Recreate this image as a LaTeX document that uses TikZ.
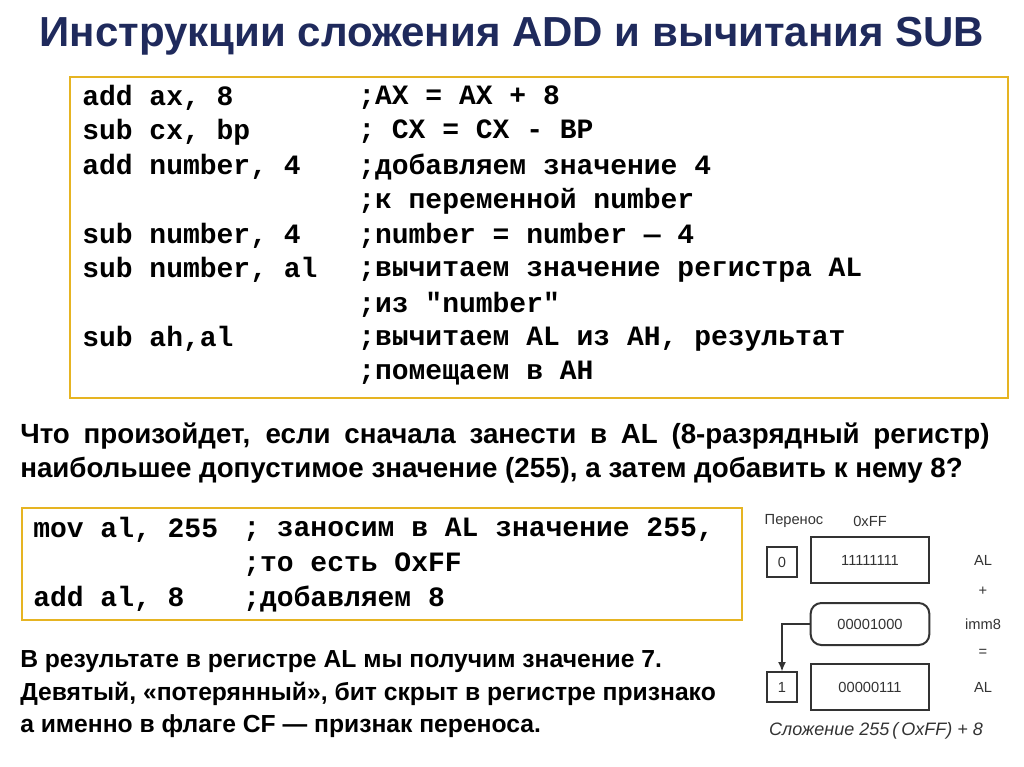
\documentclass[tikz,border=0pt]{standalone}
\usepackage{fontspec}
\setmainfont{Liberation Sans}
\newfontfamily\codefont{Liberation Mono}
\usepackage{tikz}
\usetikzlibrary{arrows.meta}
\definecolor{titleblue}{HTML}{1F2A5C}
\definecolor{goldline}{HTML}{E6B422}
\definecolor{diag}{HTML}{333333}

\begin{document}
\begin{tikzpicture}[x=0.75pt,y=-0.75pt,
    codeline/.style={anchor=west,inner sep=0pt,font=\codefont\bfseries\fontsize{21}{24}\selectfont},
    textline/.style={anchor=west,inner sep=0pt,font=\bfseries\fontsize{18.5}{22}\selectfont},
    reg/.style={draw=diag,line width=1.5pt,inner sep=0pt,font=\fontsize{11}{13}\selectfont,text=diag},
    side/.style={font=\fontsize{11}{13}\selectfont,text=diag}]
            \useasboundingbox (0,0) rectangle (1024,767);

            % Title
            \node[font=\bfseries\fontsize{31.5}{34}\selectfont,text=titleblue] (title) at (512,36) {Инструкции сложения ADD и вычитания SUB};

            % First code box
            \draw[goldline,line width=2.2pt] (70,77) rectangle (1008,398);
            \node[codeline] (c1) at (82,98) {add ax, 8};
            \node[codeline] (c2) at (82,132) {sub cx, bp};
            \node[codeline] (c3) at (82,167) {add number, 4};
            \node[codeline] (c4) at (82,236) {sub number, 4};
            \node[codeline] (c5) at (82,270) {sub number, al};
            \node[codeline] (c6) at (82,339) {sub ah,al};
            \node[codeline] (k1) at (358,98) {;AX = AX + 8};
            \node[codeline] (k2) at (358,132) {; CX = CX - BP};
            \node[codeline] (k3) at (358,167) {;добавляем значение 4};
            \node[codeline] (k4) at (358,201) {;к переменной number};
            \node[codeline] (k5) at (358,236) {;number = number — 4};
            \node[codeline] (k6) at (358,270) {;вычитаем значение регистра AL};
            \node[codeline] (k7) at (358,305) {;из "number"};
            \node[codeline] (k8) at (358,339) {;вычитаем AL из AH, результат};
            \node[codeline] (k9) at (358,373) {;помещаем в AH};

            % Question
            \node[textline,font=\bfseries\fontsize{20.8}{24}\selectfont] (q1) at (20,436) {\makebox[727pt][s]{Что произойдет, если сначала занести в AL (8-разрядный регистр)}};
            \node[textline,font=\bfseries\fontsize{20.8}{24}\selectfont] (q2) at (20,470) {наибольшее допустимое значение (255), а затем добавить к нему 8?};

            % Second code box
            \draw[goldline,line width=2.2pt] (22,508) rectangle (742,620);
            \node[codeline] (m1) at (33,530) {mov al, 255};
            \node[codeline] (m2) at (33,599) {add al, 8};
            \node[codeline] (n1) at (243,530) {; заносим в AL значение 255,};
            \node[codeline] (n2) at (243,565) {;то есть OxFF};
            \node[codeline] (n3) at (243,599) {;добавляем 8};

            % Result
            \node[textline] (r1) at (20,662) {В результате в регистре AL мы получим значение 7.};
            \node[textline] (r2) at (20,694) {Девятый, «потерянный», бит скрыт в регистре признако};
            \node[textline] (r3) at (20,726) {а именно в флаге CF — признак переноса.};

            % Diagram
            \node[side] (carrylbl) at (794,521) {Перенос};
            \node[side] (hexlbl) at (870,521) {0xFF};
            \node[reg,minimum width=22.5pt,minimum height=22pt] (cf0) at (782,562) {0};
            \node[reg,minimum width=89pt,minimum height=34.5pt] (al1) at (870,560) {11111111};
            \node[reg,rounded corners=8pt,minimum width=89pt,minimum height=31.5pt] (imm) at (870,624) {00001000};
            \node[reg,minimum width=22.5pt,minimum height=22pt] (cf1) at (782,687) {1};
            \node[reg,minimum width=89pt,minimum height=34.5pt] (al2) at (870,687) {00000111};
            \node[side] (s1) at (983,560) {AL};
            \node[side] (s2) at (983,591) {+};
            \node[side] (s3) at (983,624) {imm8};
            \node[side] (s4) at (983,653) {=};
            \node[side] (s5) at (983,687) {AL};
            \draw[diag,line width=1pt,-{Latex[length=7pt,width=6pt]}] (imm.west) -| (cf1.north);
            \node[font=\itshape\fontsize{13.5}{15}\selectfont,text=diag] (cap) at (876,731) {Сложение 255\,(\,OxFF) + 8};

        \end{tikzpicture}
\end{document}
